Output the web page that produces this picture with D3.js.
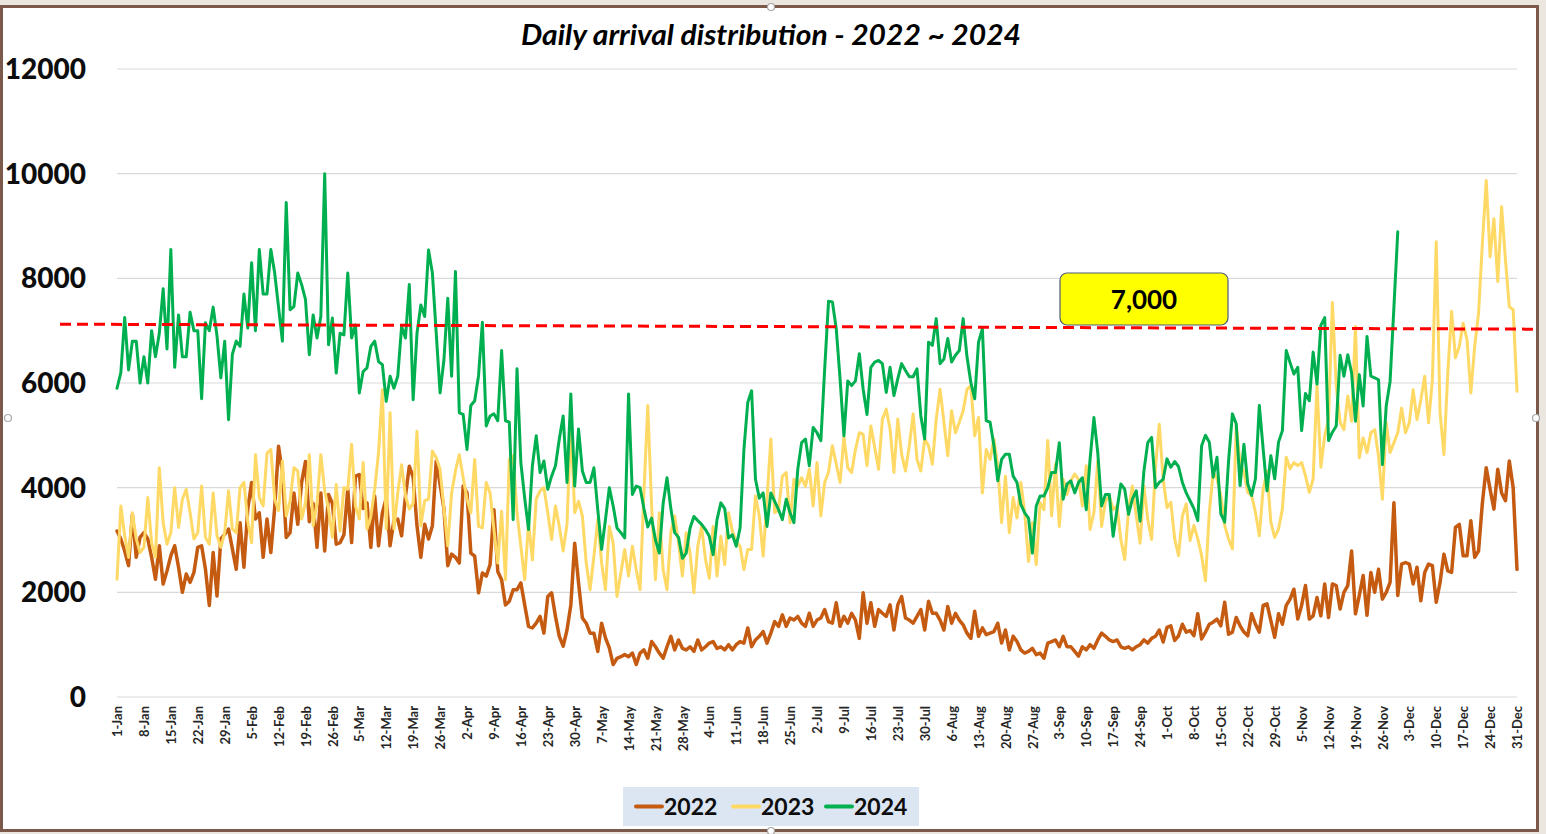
<!DOCTYPE html>
<html>
<head>
<meta charset="utf-8">
<script src="https://cdn.jsdelivr.net/npm/d3@7"></script>
<style>
  html, body { margin: 0; padding: 0; background: #ebe6e0; }
  svg { display: block; }
</style>
</head>
<body>
<svg id="chart" width="1546" height="834"></svg>
<script>
// ---------------- DATA ----------------
const chartTitle = "Daily arrival distribution - 2022 ~ 2024";
const seriesNames = ["2022", "2023", "2024"];

const tickLabels = ["1-Jan","8-Jan","15-Jan","22-Jan","29-Jan","5-Feb","12-Feb","19-Feb","26-Feb","5-Mar","12-Mar","19-Mar","26-Mar","2-Apr","9-Apr","16-Apr","23-Apr","30-Apr","7-May","14-May","21-May","28-May","4-Jun","11-Jun","18-Jun","25-Jun","2-Jul","9-Jul","16-Jul","23-Jul","30-Jul","6-Aug","13-Aug","20-Aug","27-Aug","3-Sep","10-Sep","17-Sep","24-Sep","1-Oct","8-Oct","15-Oct","22-Oct","29-Oct","5-Nov","12-Nov","19-Nov","26-Nov","3-Dec","10-Dec","17-Dec","24-Dec","31-Dec"];
const yTickValues = [0, 2000, 4000, 6000, 8000, 10000, 12000];
const referenceValue = 7000;
const referenceLabel = "7,000";

const values2022 = [
3170,3020,2790,2510,3490,2670,3050,3140,3020,2670,2250,2890,2160,2410,2700,2890,2480,2000,2350,2190,2380,2860,2890,2440,1750,2760,1930,3020,3110,3210,2830,2440,3330,2480,3590,4100,3400,3520,2670,3400,2760,3620,4790,4290,3050,3140,
3900,3300,4100,4500,3350,3700,2860,3900,2790,3870,3700,2920,2950,3100,3970,2950,4220,4250,3600,3710,2860,3840,2890,3520,3800,2890,3370,3400,3080,3840,4410,4200,3270,2670,3300,3020,3270,4510,4060,3600,2510,2730,2670,
2560,4030,3900,2750,2690,1990,2370,2310,2530,3580,2400,2240,1760,1830,2050,2050,2180,1760,1350,1320,1410,1540,1220,1920,1990,1540,1160,970,1280,1760,2940,2180,1510,1410,1220,1220,870,1410,1130,940,620,740,770,810,770,840,620,
840,900,740,1060,960,840,740,960,1160,900,1090,930,900,960,870,1090,900,960,1030,1060,930,960,900,1000,900,1000,1060,1030,1320,960,1090,1160,1250,1030,1220,1440,1350,1570,1350,1510,1470,1540,1410,1350,1600,
1350,1470,1510,1670,1440,1410,1800,1350,1540,1410,1600,1470,1120,1990,1410,1800,1350,1670,1600,1540,1760,1280,1760,1920,1510,1470,1410,1540,1670,1280,1830,1600,1600,1470,1280,1730,1410,1600,1470,1380,1220,1120,1640,1160,1320,1190,
1220,1250,1410,1030,1280,900,1160,1060,900,840,870,930,810,840,740,1030,1060,1090,960,1160,960,960,870,780,960,900,1000,930,1090,1220,1160,1090,1060,1090,960,930,960,900,960,1000,1090,1030,1120,1160,1280,
1050,1330,1360,1080,1170,1390,1240,1270,1170,1590,1110,1240,1390,1430,1490,1360,1810,1200,1240,1520,1360,1240,1170,1590,1390,1240,1750,1780,1460,1140,1590,1390,1750,1870,2060,1490,1750,2130,1490,1550,1900,1550,2160,1520,2160,2130,
1680,2000,2130,2790,1590,1940,2320,1560,2380,2000,2440,1870,2000,2190,3710,1940,2540,2570,2540,2160,2480,1840,2380,2540,2510,1810,2190,2730,2410,2380,3240,3300,2700,2700,3370,2670,2790,3710,4380,3970,3590,4350,3900,3750,4510,4000,2440
];

const values2023 = [
2250,3650,3080,2670,3520,3020,2760,2860,3810,2950,2670,4380,3330,2920,3140,4000,3240,3780,3970,3520,3020,3140,4030,3050,2920,3900,3080,2860,3140,3940,3210,3140,4000,4100,3360,2950,4630,3810,3650,4660,4730,3780,3560,4510,3460,3750,
4380,4320,3400,3710,4630,3270,3700,4630,3940,3590,3050,4060,3170,4000,3970,4830,3650,3400,4480,3210,3450,3970,4670,5870,3210,5430,3210,3900,4440,3840,3590,3700,5080,3270,3750,3780,4700,4570,4350,3600,2890,3900,4320,4630,4190,3780,
3520,4540,3260,3230,4100,3900,3200,2560,3550,2240,4540,4610,3520,2880,2240,3330,2620,3780,3940,4000,3520,3010,3650,3260,2790,3300,5250,3520,3740,3460,2560,2050,2690,3390,2560,2050,3260,2940,1920,2370,2820,2310,2880,2430,2050,
3900,5570,3650,2240,3520,2430,2050,3140,3460,2940,2310,3140,2750,1990,2880,3260,2630,2270,3260,2310,3070,2530,3520,3170,2980,2880,2430,2820,2820,3840,3460,2690,3780,4930,3520,3580,4220,4290,3330,4160,4030,4190,4030,4350,3650,
4480,3460,4100,4300,4800,4450,4100,4960,4380,4290,4730,5050,5020,4420,5180,4770,4350,5310,5500,5120,4290,5310,4640,4320,4800,5410,4540,4320,4930,4800,4450,5310,5880,5250,4610,5470,5050,5250,5470,5880,5950,4990,5340,3900,4730,
4540,4930,4420,3330,4220,3140,3810,3420,4100,3520,2590,3330,2530,3710,3580,4900,3460,4450,3260,4160,3870,4130,4260,4160,3650,4420,3200,3520,4510,3260,3740,3840,3580,3650,3010,2630,3580,4030,3460,2940,4030,3390,3010,4380,5210,4160,3620,
3720,3020,2700,3460,3690,2990,3280,3020,2700,2220,3530,4290,4170,3850,3280,3020,2830,5180,4480,4290,3910,3850,3530,3080,3970,4320,3340,3050,3210,3590,4580,4360,4480,4420,4480,4230,3910,4170,5950,4390,4990,5310,7540,5950,5250,
5110,5750,5270,7080,4570,4950,4670,5050,5110,4600,3780,5240,4670,4860,5050,5520,5050,5240,5870,5300,5680,6130,5240,6060,8700,5430,4630,6190,7370,6480,6700,7140,6830,5810,6700,7330,8670,9870,8410,9140,7940,9370,8350,7460,7400,5840
];

const values2024 = [
5900,6200,7250,6250,6800,6800,6000,6500,6000,7000,6500,6950,7800,6650,8550,6300,7300,6500,6500,7350,7000,7000,5700,7150,7000,7450,6900,6100,6800,5300,6550,6800,6700,7700,7050,8300,7000,8550,7700,7700,8550,8100,7450,6800,9450,7400,
7460,8100,7880,7600,6540,7300,6860,7270,10000,6730,7240,6190,6950,6920,8100,6860,7110,5810,6220,6290,6700,6800,6410,6350,5650,6130,5900,6130,7080,6860,7880,5680,6950,7490,7270,8540,8100,6950,5810,6440,7620,6130,8130,5430,5400,4730,
5570,5660,6140,7160,5180,5370,5410,5280,6620,5280,5250,3390,6270,4480,3800,3200,4420,4990,4290,4510,3970,4220,4420,4930,5370,4100,5790,4030,5120,4320,4100,4100,4380,3580,2820,3390,4000,3650,3230,3140,3040,5790,3870,4030,
4000,3600,3250,3420,3000,2750,3700,4190,3600,3140,3050,2650,2750,3230,3450,3370,3300,3200,3070,2720,3390,3710,3600,3040,3100,2880,3230,4730,5630,5850,4160,3800,3900,3260,3900,3740,3580,3390,3780,3520,3330,4350,4860,4930,4420,5150,
5050,4900,6270,7560,7550,7040,6080,4990,6040,5950,6040,6560,5880,5400,6300,6400,6430,6370,5820,6300,5760,6080,6370,6240,6120,6120,6270,5370,4930,6780,6720,7230,6370,6460,6850,6400,6530,6620,7230,6500,6010,5700,6780,7040,5280,
5250,4800,4130,4540,4640,4640,4220,4100,3680,3520,3420,2750,3650,3840,3840,4000,4290,4290,4860,3780,4070,4130,3900,4100,4190,3580,4540,5340,4670,3650,3870,3870,3070,3580,4070,3970,3490,3780,3940,3360,4320,4860,4960,4000,4100,4160,
4550,4390,4500,4400,4100,3900,3750,3600,3370,4800,5000,4870,4200,4580,3500,3340,4500,5410,5220,4040,4830,4070,3850,4170,5570,4740,3940,4610,4170,4870,5090,6620,6390,6170,6300,5090,5800,5660,6590,5980,7100,7250,4900,5060,5180,6530,
6130,6540,6190,5270,6160,5560,6890,6130,6100,6060,4440,5560,6030,7450,8890
];

// ---------------- LAYOUT / STYLE ----------------
const W = 1546, H = 834;
const plot = { left: 117, right: 1517, top: 69, bottom: 697 };
const colors = { "2022": "#c55a11", "2023": "#ffd966", "2024": "#00b050" };
const FONT = "Lato, 'Liberation Sans', Arial, sans-serif";

const svg = d3.select("#chart");

// outer frame (Excel object frame)
svg.append("rect").attr("x", 0).attr("y", 0).attr("width", W).attr("height", H).attr("fill", "#ebe6e0");
svg.append("rect").attr("x", 1.5).attr("y", 6.5).attr("width", 1536).attr("height", 824)
  .attr("fill", "#ffffff").attr("stroke", "#7b5a4b").attr("stroke-width", 3);

const x = d3.scaleLinear().domain([0, 364]).range([plot.left, plot.right]);
const y = d3.scaleLinear().domain([0, 12000]).range([plot.bottom, plot.top]);

// gridlines
svg.append("g").selectAll("line").data(yTickValues).join("line")
  .attr("x1", plot.left).attr("x2", plot.right)
  .attr("y1", d => y(d)).attr("y2", d => y(d))
  .attr("stroke", "#d9d9d9").attr("stroke-width", 1.2);

// y axis labels
const yAxis = d3.axisLeft(y).tickValues(yTickValues).tickSize(0).tickPadding(0).tickFormat(d3.format("d"));
const gy = svg.append("g").attr("transform", `translate(86,0)`).call(yAxis);
gy.select(".domain").remove();
gy.selectAll("text").attr("font-family", FONT).attr("font-weight", "900")
  .attr("font-size", 28).attr("fill", "#0d0d0d").attr("dy", "0.34em");

// x axis labels (weekly)
const tickIdx = tickLabels.map((_, i) => i * 7);
const xAxis = d3.axisBottom(x).tickValues(tickIdx).tickSize(0).tickPadding(0)
  .tickFormat((d, i) => tickLabels[i]);
const gx = svg.append("g").attr("transform", `translate(0,${plot.bottom})`).call(xAxis);
gx.select(".domain").remove();
gx.selectAll("text")
  .attr("font-family", FONT).attr("font-size", 13).attr("font-weight", "bold").attr("fill", "#262626")
  .attr("text-anchor", "end")
  .attr("transform", "translate(0,9) rotate(-90)")
  .attr("x", 0).attr("y", 0).attr("dy", "0.36em");

// lines
const line = d3.line().x((d, i) => x(i)).y(d => y(d));
const series = [
  { name: "2022", values: values2022, width: 3.5 },
  { name: "2023", values: values2023, width: 3.0 },
  { name: "2024", values: values2024, width: 3.0 }
];
svg.append("g").selectAll("path").data(series).join("path")
  .attr("d", d => line(d.values))
  .attr("fill", "none")
  .attr("stroke", d => colors[d.name])
  .attr("stroke-width", d => d.width)
  .attr("stroke-linejoin", "round")
  .attr("stroke-linecap", "round");

// reference dashed line (drawn shape, slightly slanted as in the source)
const yRef = y(referenceValue);
svg.append("line")
  .attr("x1", 60).attr("y1", yRef - 6.5)
  .attr("x2", 1536).attr("y2", yRef - 1.5)
  .attr("stroke", "#ff0000").attr("stroke-width", 3)
  .attr("stroke-dasharray", "11,6");

// reference label box
const box = svg.append("g").attr("transform", "translate(1060,273)");
box.append("rect").attr("width", 168).attr("height", 52).attr("rx", 7).attr("ry", 7)
  .attr("fill", "#ffff00").attr("stroke", "#4d5b78").attr("stroke-width", 1.2);
box.append("text").attr("x", 84).attr("y", 27).attr("dy", "0.36em")
  .attr("text-anchor", "middle").attr("font-family", FONT).attr("font-weight", "bold")
  .attr("font-size", 26).attr("fill", "#000").text(referenceLabel);

// title
svg.append("text").attr("x", 771).attr("y", 35).attr("dy", "0.35em")
  .attr("text-anchor", "middle").attr("font-family", FONT)
  .attr("font-weight", "bold").attr("font-style", "italic")
  .attr("font-size", 29).attr("textLength", 500).attr("lengthAdjust", "spacingAndGlyphs")
  .attr("fill", "#000").text(chartTitle);

// legend
const lg = svg.append("g").attr("transform", "translate(623,787)");
lg.append("rect").attr("width", 296).attr("height", 39).attr("fill", "#dce6f2");
const legendX = [13, 110, 203];
seriesNames.forEach((n, i) => {
  const g = lg.append("g").attr("transform", `translate(${legendX[i]},19.5)`);
  g.append("line").attr("x1", 0).attr("x2", 26).attr("y1", 0).attr("y2", 0)
    .attr("stroke", colors[n]).attr("stroke-width", 4).attr("stroke-linecap", "round");
  g.append("text").attr("x", 28).attr("y", 0).attr("dy", "0.36em")
    .attr("font-family", FONT).attr("font-weight", "bold").attr("font-size", 23)
    .attr("fill", "#0d0d0d").text(n);
});

// selection handles of the chart object
[[771, 7], [8, 418], [1536, 418], [771, 831]].forEach(([hx, hy]) => {
  svg.append("circle").attr("cx", hx).attr("cy", hy).attr("r", 3.5)
    .attr("fill", "#ffffff").attr("stroke", "#a6a6a6").attr("stroke-width", 1.2);
});
</script>
</body>
</html>
